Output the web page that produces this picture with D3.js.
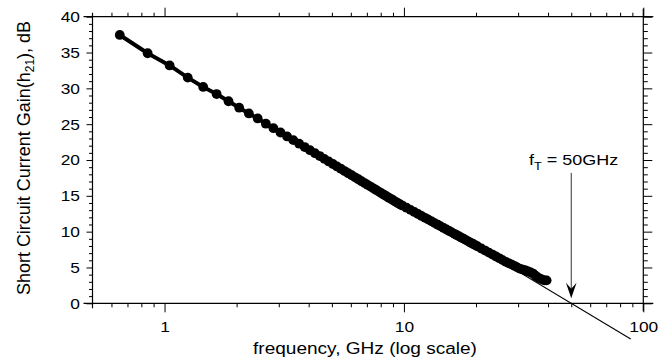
<!DOCTYPE html>
<html>
<head>
<meta charset="utf-8">
<script src="https://cdnjs.cloudflare.com/ajax/libs/d3/7.8.5/d3.min.js"></script>
<style>
  body { margin: 0; background: #fff; }
  svg { display: block; font-family: Arial, "Liberation Sans", Helvetica, sans-serif; }
</style>
</head>
<body>
<svg width="668" height="360"></svg>
<script>
const freqGHz = [
  0.65, 0.85, 1.05, 1.25, 1.45, 1.65, 1.85, 2.05, 2.25, 2.45,
  2.65, 2.85, 3.05, 3.25, 3.45, 3.65, 3.85, 4.05, 4.25, 4.45,
  4.65, 4.85, 5.05, 5.25, 5.45, 5.65, 5.85, 6.05, 6.25, 6.45,
  6.65, 6.85, 7.05, 7.25, 7.45, 7.65, 7.85, 8.05, 8.25, 8.45,
  8.65, 8.85, 9.05, 9.25, 9.45, 9.65, 9.85,
  10.25, 10.65, 11.05, 11.45, 11.85, 12.25, 12.65, 13.05, 13.45, 13.85,
  14.25, 14.65, 15.05, 15.45, 15.85, 16.25, 16.65, 17.05, 17.45, 17.85,
  18.25, 18.65, 19.05, 19.45, 19.85,
  20.25, 21.05, 21.85, 22.65, 23.45, 24.25, 25.05, 25.85, 26.65, 27.45,
  28.25, 29.05, 29.85, 30.65, 31.45, 32.25, 33.05, 33.85, 34.65, 35.45,
  36.25, 37.05, 37.85, 38.65, 39.45
];
const gainDb = [
  37.45, 34.90, 33.20, 31.50, 30.20, 29.20, 28.20, 27.30, 26.50, 25.80,
  25.07, 24.44, 23.84, 23.29, 22.77, 22.28, 21.81, 21.37, 20.95, 20.55,
  20.16, 19.80, 19.44, 19.10, 18.78, 18.46, 18.16, 17.87, 17.58, 17.31,
  17.04, 16.78, 16.53, 16.29, 16.05, 15.82, 15.59, 15.37, 15.16, 14.95,
  14.74, 14.55, 14.35, 14.16, 13.97, 13.79, 13.64,
  13.34, 13.04, 12.75, 12.47, 12.19, 11.93, 11.68, 11.43, 11.19, 10.96,
  10.74, 10.52, 10.31, 10.10, 9.90, 9.70, 9.51, 9.32, 9.14, 8.96,
  8.78, 8.61, 8.44, 8.28, 8.12,
  7.96, 7.65, 7.36, 7.07, 6.80, 6.53, 6.28, 6.03, 5.79, 5.58,
  5.40, 5.20, 4.98, 4.80, 4.70, 4.58, 4.45, 4.30, 4.15, 3.85,
  3.62, 3.45, 3.30, 3.20, 3.20
];

const xMajorTicks = [1, 10, 100];
const xMinorTicks = [0.6, 0.7, 0.8, 0.9, 2, 3, 4, 5, 6, 7, 8, 9, 20, 30, 40, 50, 60, 70, 80, 90];
const yMajorTicks = [0, 5, 10, 15, 20, 25, 30, 35, 40];
const yMinorTicks = d3.range(1, 40).filter(v => v % 5 !== 0);

// -20 dB/decade extrapolation to fT
const fitFreq = [10, 88.6];
const fitGain = [13.98, -4.97];
const fT = 50;
const arrowDb = [18.2, 0.7];

const svg = d3.select("svg");
const x = d3.scaleLog().domain([0.5, 100]).range([92.5, 643.3]);
const y = d3.scaleLinear().domain([0, 40]).range([303.3, 16.7]);
const SX = 1.12; // the original scan is a bit wide, so text is stretched

function styleAxis(g) {
  g.attr("font-family", null).attr("font-size", null);
  g.select(".domain").remove();
  g.selectAll("line").attr("stroke", "#000");
  g.selectAll("text").attr("fill", "#000").style("font-size", "15.5px");
}

// bottom
svg.append("g").attr("transform", `translate(0,${y(0)})`)
  .call(d3.axisBottom(x).tickValues(xMajorTicks).tickSize(9).tickPadding(9).tickFormat(d3.format("d")))
  .call(styleAxis)
  .call(g => g.selectAll("text").attr("transform", `scale(${SX},1)`));
svg.append("g").attr("transform", `translate(0,${y(0)})`)
  .call(d3.axisBottom(x).tickValues(xMinorTicks).tickSize(4).tickFormat(""))
  .call(styleAxis);
// top
svg.append("g").attr("transform", `translate(0,${y(40)})`)
  .call(d3.axisTop(x).tickValues(xMajorTicks).tickSize(9).tickFormat(""))
  .call(styleAxis);
svg.append("g").attr("transform", `translate(0,${y(40)})`)
  .call(d3.axisTop(x).tickValues(xMinorTicks).tickSize(4).tickFormat(""))
  .call(styleAxis);
// left
svg.append("g").attr("transform", `translate(${x(0.5)},0)`)
  .call(d3.axisLeft(y).tickValues(yMajorTicks).tickSize(6))
  .call(styleAxis)
  .call(g => g.selectAll("text").attr("x", 0).attr("transform", `translate(-12.5,0) scale(${SX},1)`));
svg.append("g").attr("transform", `translate(${x(0.5)},0)`)
  .call(d3.axisLeft(y).tickValues(yMinorTicks).tickSize(3.5).tickFormat(""))
  .call(styleAxis);
// right
svg.append("g").attr("transform", `translate(${x(100)},0)`)
  .call(d3.axisRight(y).tickValues(yMajorTicks).tickSize(9).tickFormat(""))
  .call(styleAxis);
svg.append("g").attr("transform", `translate(${x(100)},0)`)
  .call(d3.axisRight(y).tickValues(yMinorTicks).tickSize(4.5).tickFormat(""))
  .call(styleAxis);

// frame lines, a little longer than the box
const frame = svg.append("g").attr("stroke", "#000").attr("stroke-width", 1.2);
frame.append("line").attr("x1", x(0.5) - 9).attr("x2", x(100) + 10).attr("y1", y(0)).attr("y2", y(0));
frame.append("line").attr("x1", x(0.5) - 9).attr("x2", x(100) + 10).attr("y1", y(40)).attr("y2", y(40));
frame.append("line").attr("x1", x(0.5)).attr("x2", x(0.5)).attr("y1", y(40) - 4).attr("y2", y(0) + 5);
frame.append("line").attr("x1", x(100)).attr("x2", x(100)).attr("y1", y(40) - 8).attr("y2", y(0) + 8);

// data
const pts = freqGHz.map((f, i) => [f, gainDb[i]]);
svg.append("path").datum(pts)
  .attr("fill", "none").attr("stroke", "#000").attr("stroke-width", 4)
  .attr("stroke-linejoin", "round")
  .attr("d", d3.line().x(d => x(d[0])).y(d => y(d[1])));
svg.append("g").selectAll("circle").data(pts).join("circle")
  .attr("cx", d => x(d[0])).attr("cy", d => y(d[1])).attr("r", 4.9).attr("fill", "#000");

// fit line
svg.append("path").datum(fitFreq.map((f, i) => [f, fitGain[i]]))
  .attr("fill", "none").attr("stroke", "#000").attr("stroke-width", 1.1)
  .attr("d", d3.line().x(d => x(d[0])).y(d => y(d[1])));

// fT arrow
svg.append("line").attr("x1", x(fT)).attr("x2", x(fT))
  .attr("y1", y(arrowDb[0])).attr("y2", y(arrowDb[1]) - 8)
  .attr("stroke", "#333").attr("stroke-width", 1);
svg.append("path").attr("transform", `translate(${x(fT)},${y(arrowDb[1])})`)
  .attr("d", "M0,0 L-5.3,-15.5 L0,-9.5 L5.3,-15.5 Z").attr("fill", "#000");

const lbl = svg.append("text").attr("transform", `translate(529,164.5) scale(1.16,1)`)
  .style("font-size", "15.5px");
lbl.append("tspan").text("f");
lbl.append("tspan").attr("dy", 5).style("font-size", "11px").text("T");
lbl.append("tspan").attr("dy", -5).text(" = 50GHz");

// axis titles
svg.append("text").attr("transform", `translate(365,354) scale(1.19,1)`)
  .attr("text-anchor", "middle")
  .style("font-size", "16px").text("frequency, GHz (log scale)");

const yt = svg.append("text").attr("transform", "translate(29.5,158) scale(1.07,1) rotate(-90)")
  .attr("text-anchor", "middle").style("font-size", "18px");
yt.append("tspan").text("Short Circuit Current Gain(h");
yt.append("tspan").attr("dy", 4).style("font-size", "12px").text("21");
yt.append("tspan").attr("dy", -4).text("), dB");
</script>
</body>
</html>
